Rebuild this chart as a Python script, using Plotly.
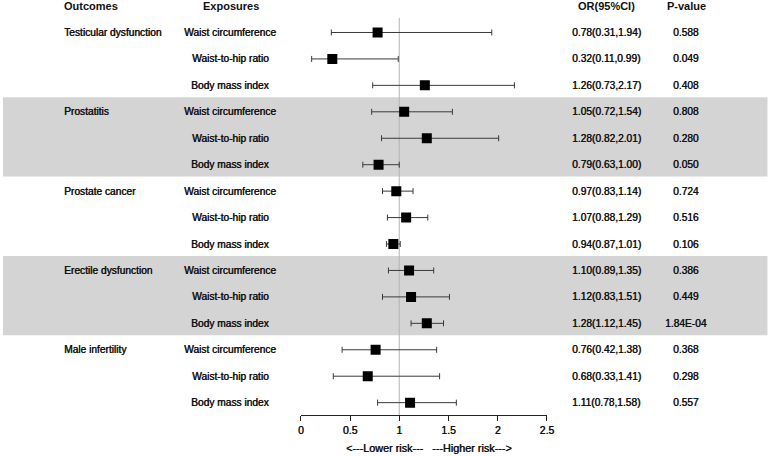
import plotly.graph_objects as go

outcomes = ["Testicular dysfunction", "Prostatitis", "Prostate cancer",
            "Erectile dysfunction", "Male infertility"]
exposures = ["Waist circumference", "Waist-to-hip ratio", "Body mass index"]
or_vals = [0.78, 0.32, 1.26, 1.05, 1.28, 0.79, 0.97, 1.07, 0.94,
           1.10, 1.12, 1.28, 0.76, 0.68, 1.11]
ci_low = [0.31, 0.11, 0.73, 0.72, 0.82, 0.63, 0.83, 0.88, 0.87,
          0.89, 0.83, 1.12, 0.42, 0.33, 0.78]
ci_high = [1.94, 0.99, 2.17, 1.54, 2.01, 1.00, 1.14, 1.29, 1.01,
           1.35, 1.51, 1.45, 1.38, 1.41, 1.58]
p_values = ["0.588", "0.049", "0.408", "0.808", "0.280", "0.050", "0.724",
            "0.516", "0.106", "0.386", "0.449", "1.84E-04", "0.368",
            "0.298", "0.557"]
tick_vals = [0, 0.5, 1, 1.5, 2, 2.5]
tick_text = ["0", "0.5", "1", "1.5", "2", "2.5"]
shaded_groups = [1, 3]  # Prostatitis, Erectile dysfunction

n = len(or_vals)
rows = list(range(1, n + 1))
FONT = "Liberation Sans, Arial, sans-serif"
SHADOW = "0.45px 0px 0px #111"

fig = go.Figure()
fig.add_trace(go.Scatter(
    x=or_vals, y=rows, mode="markers",
    marker=dict(symbol="square", size=10, color="black"),
    error_x=dict(type="data", symmetric=False,
                 array=[h - o for h, o in zip(ci_high, or_vals)],
                 arrayminus=[o - l for o, l in zip(or_vals, ci_low)],
                 color="#3a3a3a", thickness=1, width=3),
    showlegend=False, hoverinfo="skip",
))

shapes = []
for g in shaded_groups:
    shapes.append(dict(type="rect", xref="paper", yref="y", layer="below",
                       x0=0, x1=0.998, y0=g * 3 + 0.45, y1=g * 3 + 3.45,
                       fillcolor="#d4d4d4", line=dict(width=0)))
shapes.append(dict(type="line", xref="x", yref="y", layer="below",
                   x0=1, x1=1, y0=0.45, y1=15.467,
                   line=dict(color="#b4b4b4", width=1)))

ann = []
def txt(x, y, s, anchor="center", bold=False, size=10.2, yref="y"):
    f = dict(family=FONT, size=size, color="#111")
    if not bold:
        f["shadow"] = SHADOW
    ann.append(dict(x=x, y=y, xref="paper", yref=yref, text=("<b>%s</b>" % s) if bold else s,
                    showarrow=False, xanchor=anchor, yanchor="middle", font=f))

W = 776.0
txt(60 / W, 0, "Outcomes", anchor="left", bold=True, size=11)
txt(231 / W, 0, "Exposures", bold=True, size=11)
txt(611 / W, 0, "OR(95%CI)", bold=True, size=11)
txt(692 / W, 0, "P-value", bold=True, size=11)
for gi, o in enumerate(outcomes):
    txt(60 / W, gi * 3 + 1, o, anchor="left")
for i in range(n):
    txt(230 / W, rows[i], exposures[i % 3])
    txt(611 / W, rows[i], "%.2f(%.2f,%.2f)" % (or_vals[i], ci_low[i], ci_high[i]))
    txt(692 / W, rows[i], p_values[i])
txt(431.5 / W, (456 - 448) / 456.0, "&lt;---Lower risk---   ---Higher risk---&gt;",
    size=10.8, yref="paper")

fig.update_layout(
    width=776, height=456, margin=dict(l=0, r=0, t=0, b=0),
    paper_bgcolor="white", plot_bgcolor="rgba(0,0,0,0)",
    shapes=shapes, annotations=ann,
    xaxis=dict(domain=[301.7 / W, 551 / W], range=[0, 2.5],
               tickvals=tick_vals, ticktext=tick_text,
               showline=True, linecolor="#222", linewidth=1,
               ticks="outside", ticklen=5, tickcolor="#222",
               showgrid=False, zeroline=False,
               tickfont=dict(family=FONT, size=10.5, color="#111", shadow=SHADOW)),
    yaxis=dict(domain=[(456 - 415) / 456.0, 1], range=[15.467, -0.229],
               visible=False, showgrid=False, zeroline=False),
)

fig.write_html("out.html")
